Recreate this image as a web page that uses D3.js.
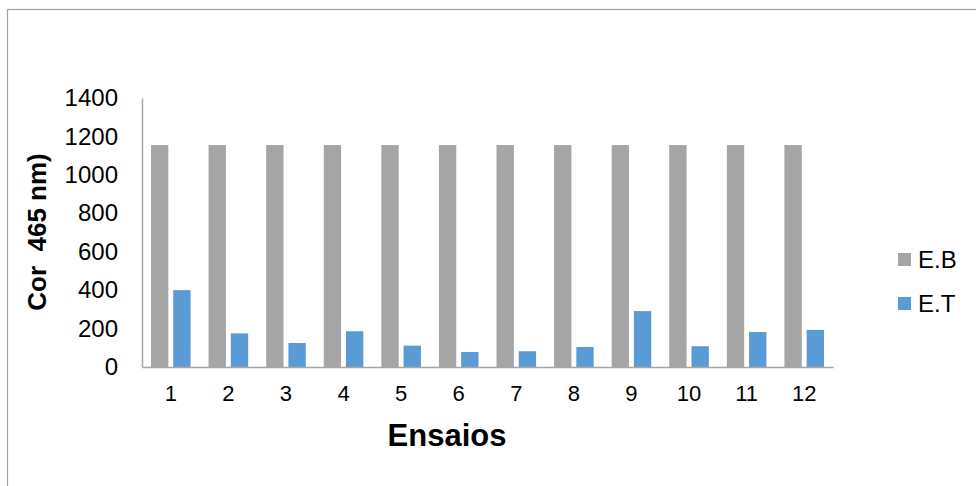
<!DOCTYPE html>
<html>
<head>
<meta charset="utf-8">
<script src="https://cdn.jsdelivr.net/npm/d3@7"></script>
<style>
  html, body { margin: 0; padding: 0; background: #fff; }
  svg { display: block; font-family: "Liberation Sans", Arial, sans-serif; }
</style>
</head>
<body>
<svg id="chart" width="976" height="486"></svg>
<script>
const categories = ["1","2","3","4","5","6","7","8","9","10","11","12"];
const seriesNames = ["E.B", "E.T"];
const valuesEB = [1155,1155,1155,1155,1155,1155,1155,1155,1155,1155,1155,1155];
const valuesET = [400,175,125,186,111,78,82,104,291,108,182,193];
const yTicks = [0,200,400,600,800,1000,1200,1400];
const colors = ["#A5A5A5", "#5B9BD5"];

const svg = d3.select("#chart");

// outer frame
svg.append("rect")
  .attr("x", 7.5).attr("y", 9.5)
  .attr("width", 1000).attr("height", 500)
  .attr("fill", "#fff").attr("stroke", "#A0A0A0").attr("stroke-width", 1.2);

const plot = { left: 142, right: 833, top: 98, bottom: 367 };

const x0 = d3.scaleBand().domain(categories)
  .range([plot.left, plot.right]).paddingInner(0).paddingOuter(0);
const x1 = d3.scaleBand().domain(seriesNames)
  .range([9, x0.bandwidth() - 9]).paddingInner(0.22).paddingOuter(0);
const y = d3.scaleLinear().domain([0, 1400]).range([plot.bottom, plot.top]);

const data = categories.map((c, i) => ({ cat: c, vals: [valuesEB[i], valuesET[i]] }));

const groups = svg.append("g").selectAll("g").data(data).join("g")
  .attr("transform", d => `translate(${x0(d.cat)},0)`);
groups.selectAll("rect")
  .data(d => d.vals.map((v, j) => ({ name: seriesNames[j], v, j })))
  .join("rect")
  .attr("x", d => x1(d.name))
  .attr("y", d => y(d.v))
  .attr("width", x1.bandwidth())
  .attr("height", d => y(0) - y(d.v))
  .attr("fill", d => colors[d.j]);

// y axis
const yAxis = d3.axisLeft(y).tickValues(yTicks).tickFormat(d3.format("d"))
  .tickSize(0).tickPadding(24);
const gy = svg.append("g").attr("transform", `translate(${plot.left},0)`).call(yAxis);
gy.select(".domain").attr("stroke", "#A6A6A6").attr("stroke-width", 1.5);
gy.selectAll("text").attr("font-size", 24).attr("fill", "#000")
  .attr("font-family", "Liberation Sans, Arial, sans-serif");

// x axis
const xAxis = d3.axisBottom(x0).tickSize(0).tickPadding(18);
const gx = svg.append("g").attr("transform", `translate(0,${plot.bottom})`).call(xAxis);
gx.select(".domain").attr("stroke", "#A6A6A6").attr("stroke-width", 1.5);
gx.selectAll("text").attr("font-size", 22).attr("fill", "#000")
  .attr("font-family", "Liberation Sans, Arial, sans-serif");

// axis titles
svg.append("text")
  .attr("x", 447).attr("y", 446)
  .attr("text-anchor", "middle")
  .attr("font-size", 31).attr("font-weight", "bold")
  .text("Ensaios");

svg.append("text")
  .attr("transform", "translate(46,232) rotate(-90)")
  .attr("text-anchor", "middle")
  .attr("font-size", 26).attr("font-weight", "bold")
  .attr("xml:space", "preserve")
  .style("white-space", "pre")
  .text("Cor  465 nm)");

// legend
const legend = svg.append("g");
const legY = [260, 304];
seriesNames.forEach((n, i) => {
  legend.append("rect")
    .attr("x", 898).attr("y", legY[i] - 7)
    .attr("width", 13).attr("height", 13)
    .attr("fill", colors[i]);
  legend.append("text")
    .attr("x", 918).attr("y", legY[i] + 8)
    .attr("font-size", 24)
    .text(n);
});
</script>
</body>
</html>
